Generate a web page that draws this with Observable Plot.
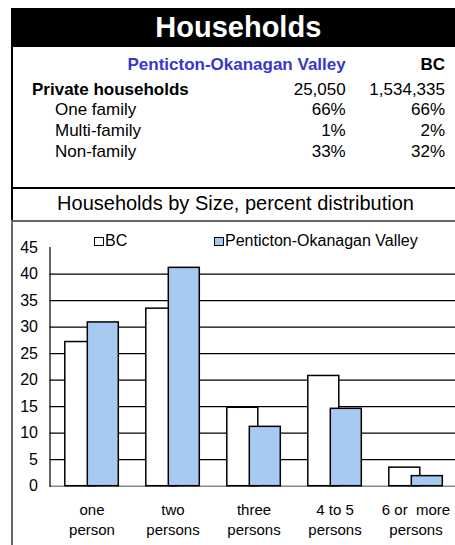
<!DOCTYPE html>
<html><head><meta charset="utf-8">
<script src="https://cdn.jsdelivr.net/npm/d3@7"></script>
<script src="https://cdn.jsdelivr.net/npm/@observablehq/plot@0.6"></script>
<style>
body{margin:0;width:455px;height:545px;overflow:hidden;position:relative;font-family:"Liberation Sans",Arial,sans-serif;background:#fff;color:#000}
.a{position:absolute;white-space:pre;line-height:1}
svg text{white-space:pre}
</style></head><body>
<script>
// ---- data ----
const categories = ["one\nperson", "two\npersons", "three\npersons", "4 to 5\npersons", "6 or  more\npersons"];
const seriesNames = ["BC", "Penticton-Okanagan Valley"];
const bcValues = [27.2, 33.5, 14.8, 20.8, 3.5];
const pvValues = [30.9, 41.2, 11.2, 14.6, 1.9];
const yTicks = [0, 5, 10, 15, 20, 25, 30, 35, 40, 45];
const gridTicks = [5, 10, 15, 20, 25, 30, 35, 40];
const titleText = "Households";
const subtitleText = "Households by Size, percent distribution";
const tableColumns = ["Penticton-Okanagan Valley", "BC"];
const rowLabels = ["Private households", "One family", "Multi-family", "Non-family"];
const pvTable = ["25,050", "66%", "1%", "33%"];
const bcTable = ["1,534,335", "66%", "2%", "32%"];

// ---- helpers ----
function el(styleText, text) {
  const d = document.createElement("div");
  d.className = "a";
  d.style.cssText = styleText;
  if (text != null) d.textContent = text;
  document.body.appendChild(d);
  return d;
}

// ---- header box ----
el("left:11px;top:8px;width:444px;height:39px;background:#000");
el("left:238.3px;top:13.3px;transform:translateX(-50%);color:#fff;font-weight:bold;font-size:29px", titleText);
el("left:11px;top:8px;width:1.8px;height:212px;background:#000");
el("left:11px;top:187px;width:444px;height:2.2px;background:#000");

const colRight = [345.7, 445];
el(`right:${455 - colRight[0]}px;top:55.6px;font-weight:bold;font-size:17px;color:#3737cc`, tableColumns[0]);
el(`right:${455 - colRight[1]}px;top:55.6px;font-weight:bold;font-size:17px`, tableColumns[1]);
const rowBase = [95, 115.7, 136, 157];
rowLabels.forEach((lab, i) => {
  const top = rowBase[i] - 14.4;
  el(`left:${i === 0 ? 32 : 55}px;top:${top}px;font-size:17px;${i === 0 ? "font-weight:bold;" : ""}`, lab);
  el(`right:${455 - colRight[0]}px;top:${top}px;font-size:17px`, pvTable[i]);
  el(`right:${455 - colRight[1]}px;top:${top}px;font-size:17px`, bcTable[i]);
});

// ---- subtitle ----
el("left:235.5px;top:193.1px;transform:translateX(-50%);font-size:20px", subtitleText);

// ---- chart box ----
el("left:11px;top:220px;width:444px;height:1.5px;background:#666");
el("left:11px;top:220px;width:1.8px;height:325px;background:#666");

// ---- chart ----
const data = categories.flatMap((c, i) => [
  {cat: c, series: seriesNames[0], value: bcValues[i]},
  {cat: c, series: seriesNames[1], value: pvValues[i]}
]);
const chart = Plot.plot({
  width: 455, height: 324,
  marginLeft: 49.5, marginRight: 0, marginTop: 26.2, marginBottom: 59.3,
  x: {domain: categories, range: [49.5, 457.5], paddingInner: 0.62, paddingOuter: 0.31, align: 0.5},
  y: {domain: [0, 45]},
  style: {fontFamily: '"Liberation Sans", Arial, sans-serif', fontSize: "15px", color: "black", background: "transparent", overflow: "visible"},
  marks: [
    Plot.ruleY(gridTicks, {stroke: "black", strokeWidth: 1.2}),
    Plot.ruleY([0], {stroke: "#888", strokeWidth: 1.5}),
    Plot.barY(data.filter(d => d.series === seriesNames[0]), {x: "cat", y: "value", fill: "white", stroke: "black", strokeWidth: 1.5, dx: -11.2}),
    Plot.barY(data.filter(d => d.series === seriesNames[1]), {x: "cat", y: "value", fill: "#a6caf0", stroke: "black", strokeWidth: 1.5, dx: 11.3}),
    Plot.frame({anchor: "left", stroke: "black", strokeWidth: 1.2}),
    Plot.axisY({ticks: yTicks, tickSize: 0, tickPadding: 12, fontSize: 16, label: null}),
    Plot.axisX({tickSize: 0, tickPadding: 15, fontSize: 15, lineHeight: 1.32, label: null})
  ]
});
const wrap = el("left:0;top:221px;width:455px;height:324px");
wrap.appendChild(chart);

// ---- legend ----
const legendSq = [94, 214];
const legendFill = ["white", "#a6caf0"];
seriesNames.forEach((s, i) => {
  el(`left:${legendSq[i]}px;top:236.5px;width:7.5px;height:7.5px;border:1px solid #000;background:${legendFill[i]}`);
  el(`left:${legendSq[i] + 11}px;top:233px;font-size:16px`, s);
});
</script>
</body></html>
